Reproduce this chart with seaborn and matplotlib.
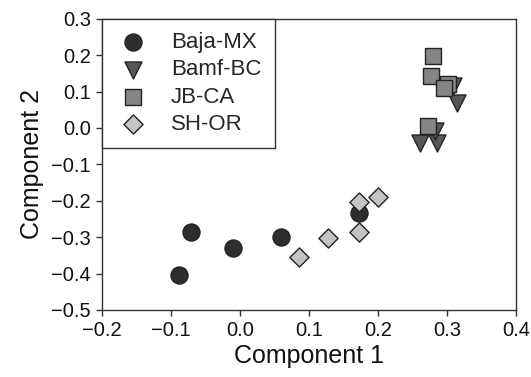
import pandas as pd
import seaborn as sns
import matplotlib.pyplot as plt

groups = ['Baja-MX', 'Bamf-BC', 'JB-CA', 'SH-OR']

baja_x = [-0.088, -0.071, -0.010, 0.060, 0.172]
baja_y = [-0.404, -0.286, -0.330, -0.301, -0.233]

bamf_x = [0.261, 0.285, 0.282, 0.314, 0.309]
bamf_y = [-0.040, -0.040, -0.008, 0.068, 0.115]

jb_x = [0.280, 0.277, 0.302, 0.295, 0.273]
jb_y = [0.199, 0.142, 0.122, 0.110, 0.005]

sh_x = [0.085, 0.128, 0.172, 0.172, 0.200]
sh_y = [-0.354, -0.302, -0.285, -0.203, -0.190]

xs = [baja_x, bamf_x, jb_x, sh_x]
ys = [baja_y, bamf_y, jb_y, sh_y]

rows = []
for g, gx, gy in zip(groups, xs, ys):
    for a, b in zip(gx, gy):
        rows.append({'Component 1': a, 'Component 2': b, 'site': g})
df = pd.DataFrame(rows)

sns.set_style('ticks')
plt.rcParams['font.family'] = ['Liberation Sans', 'DejaVu Sans']

fig = plt.figure(figsize=(5.31, 3.77), dpi=100)
ax = fig.add_axes([0.192, 0.178, 0.780, 0.772])

palette = {'Baja-MX': '#2e2e2e', 'Bamf-BC': '#575757', 'JB-CA': '#858585', 'SH-OR': '#c4c4c4'}
markers = {'Baja-MX': 'o', 'Bamf-BC': 'v', 'JB-CA': 's', 'SH-OR': 'D'}
sizes = {'Baja-MX': 150, 'Bamf-BC': 150, 'JB-CA': 120, 'SH-OR': 95}

for g in groups:
    sub = df[df['site'] == g]
    sns.scatterplot(data=sub, x='Component 1', y='Component 2', ax=ax,
                    color=palette[g], marker=markers[g], s=sizes[g],
                    edgecolor='#222222', linewidth=1.0, label=g, zorder=3)

ax.set_xlim(-0.2, 0.4)
ax.set_ylim(-0.5, 0.3)
ax.set_xticks([-0.2, -0.1, 0.0, 0.1, 0.2, 0.3, 0.4])
ax.set_yticks([-0.5, -0.4, -0.3, -0.2, -0.1, 0.0, 0.1, 0.2, 0.3])
ax.set_xticklabels(['\u22120.2', '\u22120.1', '0.0', '0.1', '0.2', '0.3', '0.4'])
ax.set_yticklabels(['\u22120.5', '\u22120.4', '\u22120.3', '\u22120.2', '\u22120.1',
                    '0.0', '0.1', '0.2', '0.3'])
ax.tick_params(direction='out', length=4, width=1, labelsize=14.5, color='#333333',
               labelcolor='#111111', pad=4)
for sp in ax.spines.values():
    sp.set_color('#333333')
    sp.set_linewidth(1)

ax.set_xlabel('Component 1', fontsize=18, color='#111111', labelpad=3)
ax.set_ylabel('Component 2', fontsize=18, color='#111111', labelpad=5)

leg = ax.legend(loc='upper left', bbox_to_anchor=(0, 1), borderaxespad=0,
                fontsize=16, frameon=True, fancybox=False, framealpha=1,
                edgecolor='#333333', handletextpad=0.9, labelspacing=0.28,
                borderpad=0.6, markerscale=1.0, handlelength=1.6)
leg.get_frame().set_linewidth(1)

fig.savefig('out.png', dpi=100)
